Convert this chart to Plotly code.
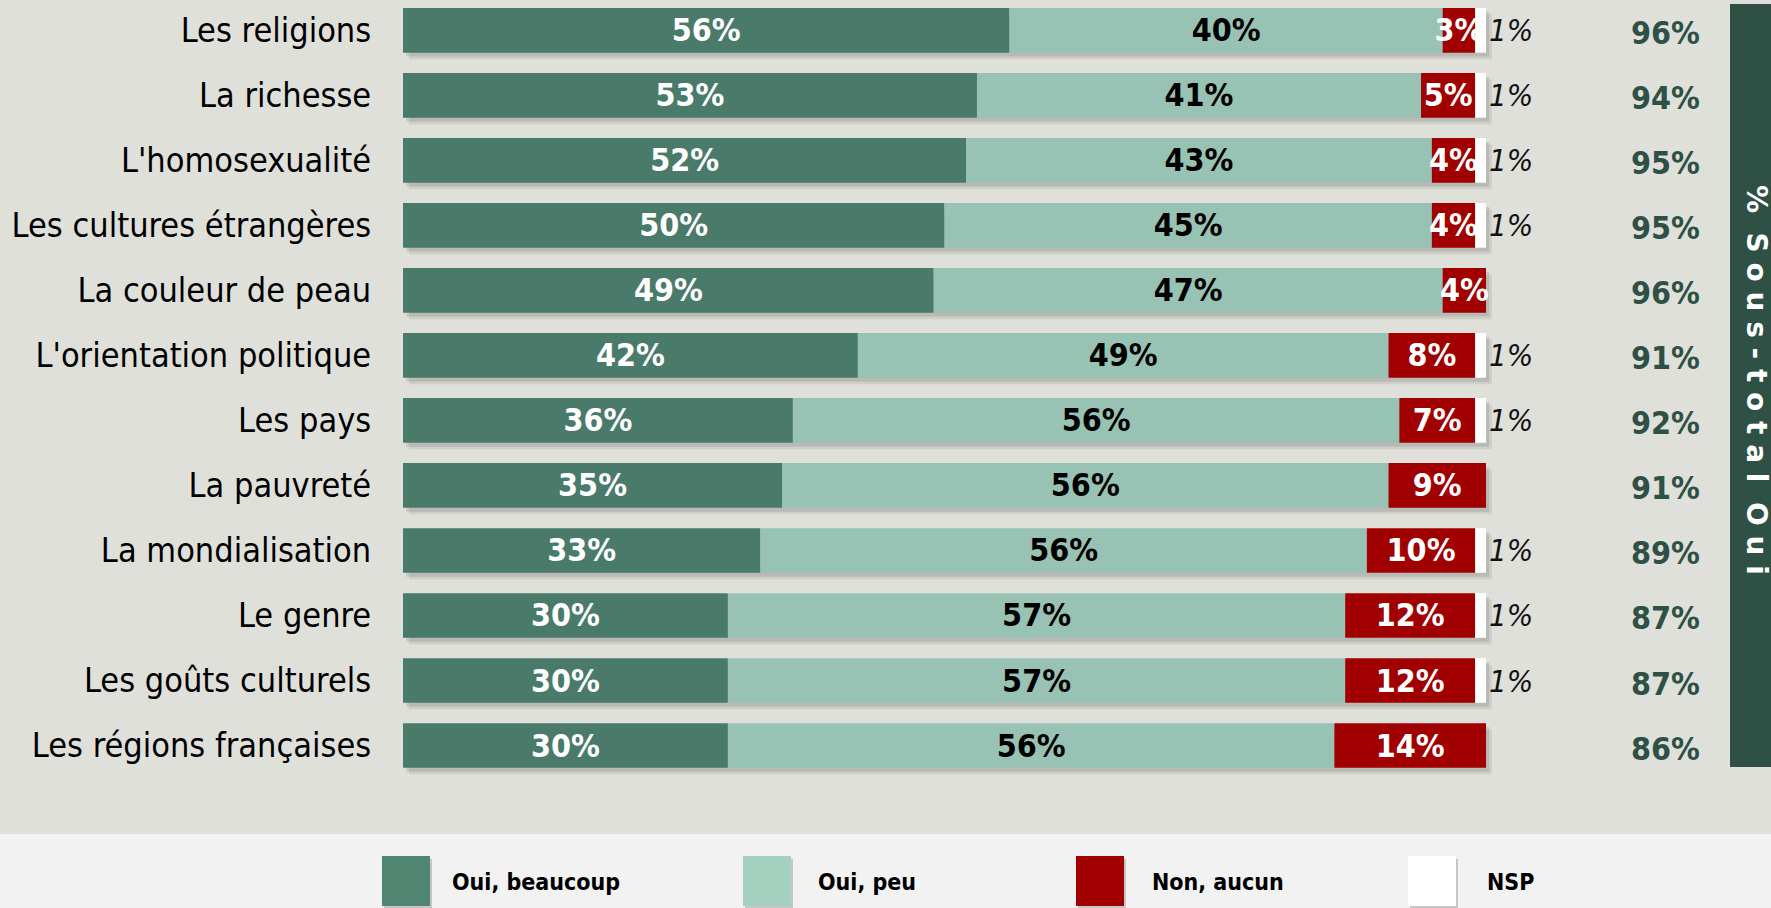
import plotly.graph_objects as go

categories = ["Les religions", "La richesse", "L'homosexualité", "Les cultures étrangères",
              "La couleur de peau", "L'orientation politique", "Les pays", "La pauvreté",
              "La mondialisation", "Le genre", "Les goûts culturels", "Les régions françaises"]
oui_beaucoup = [56, 53, 52, 50, 49, 42, 36, 35, 33, 30, 30, 30]
oui_peu = [40, 41, 43, 45, 47, 49, 56, 56, 56, 57, 57, 56]
non_aucun = [3, 5, 4, 4, 4, 8, 7, 9, 10, 12, 12, 14]
nsp = [1, 1, 1, 1, 0, 1, 1, 0, 1, 1, 1, 0]
sous_total_oui = [96, 94, 95, 95, 96, 91, 92, 91, 89, 87, 87, 86]

series_names = ["Oui, beaucoup", "Oui, peu", "Non, aucun", "NSP"]
colors = ["#4A7B6A", "#98C3B4", "#A00000", "#FFFFFF"]
legend_colors = ["#4F8571", "#A4D0C0", "#A00000", "#FFFFFF"]
text_colors = ["white", "black", "white", "black"]

W, H = 1771, 908
L_M, B_M = 403, 74
PX_PER_PCT = 10.83
plot_w = W - L_M
plot_h = H - B_M
xmax = plot_w / PX_PER_PCT
row_px, first_px = 65.02, 30.3
y_top = -first_px / row_px
y_bot = (plot_h - first_px) / row_px

BASE_FONT = "DejaVu Sans Condensed, DejaVu Sans, sans-serif"

fig = go.Figure()

# soft shadows behind bars
totals = [a + b + c + d for a, b, c, d in zip(oui_beaucoup, oui_peu, non_aucun, nsp)]
for k, (dx, dy, op) in enumerate([(0.55, 0.10, 0.10), (0.3, 0.06, 0.14)]):
    fig.add_trace(go.Bar(
        y=categories, x=totals, base=dx, orientation="h", width=0.687, offset=-0.687 / 2 + dy,
        marker=dict(color=f"rgba(60,60,60,{op})", line=dict(width=0)),
        hoverinfo="skip", showlegend=False))

series = [oui_beaucoup, oui_peu, non_aucun, nsp]
bases = [[0] * len(categories)]
for s in series[:-1]:
    bases.append([b + v for b, v in zip(bases[-1], s)])

for i, (name, vals) in enumerate(zip(series_names, series)):
    if name == "NSP":
        txt = [f"{v}%" if v else "" for v in vals]
        tpos = "outside"
        tfont = dict(family=BASE_FONT, size=31, color="#111111", style="italic")
    else:
        txt = [f"{v}%" for v in vals]
        tpos = "inside"
        tfont = dict(family=BASE_FONT, size=32, color=text_colors[i], weight="bold")
    fig.add_trace(go.Bar(
        y=categories, x=vals, base=bases[i], orientation="h", name=name, width=0.687,
        marker=dict(color=colors[i], line=dict(width=0)),
        text=txt, textposition=tpos, insidetextanchor="middle", textangle=0,
        constraintext="none", cliponaxis=False,
        insidetextfont=tfont, outsidetextfont=tfont,
        hoverinfo="skip", showlegend=False))

shapes = []
annotations = []

# subtotal column
for cat, v in zip(categories, sous_total_oui):
    annotations.append(dict(xref="x", yref="y", x=116.6, y=cat, text=f"{v}%", showarrow=False,
                            xanchor="center", yanchor="middle", yshift=-3,
                            font=dict(family=BASE_FONT, size=32, color="#2E5045", weight="bold")))

# legend band
shapes.append(dict(type="rect", xref="paper", yref="paper", x0=-L_M / plot_w, x1=1.0,
                   y0=-B_M / plot_h, y1=0, fillcolor="#F2F2F2", line=dict(width=0), layer="below"))
# subtotal box
box_x0 = (1730 - L_M) / plot_w
shapes.append(dict(type="rect", xref="paper", yref="paper", x0=box_x0, x1=1.0,
                   y0=1 - 767 / plot_h, y1=1 - 4 / plot_h, fillcolor="#2F5045",
                   line=dict(width=0), layer="above"))
annotations.append(dict(xref="paper", yref="paper", x=(1757 - L_M) / plot_w, y=1 - 380 / plot_h,
                        text="%  S o u s - t o t a l  O u i", textangle=90, showarrow=False,
                        font=dict(family="DejaVu Sans, sans-serif", size=28, color="white", weight="bold"),
                        xanchor="center", yanchor="middle"))

# custom legend
sw_x = [382, 743, 1076, 1408]
tx_x = [450, 816, 1150, 1485]
for name, c, sx, tx in zip(series_names, legend_colors, sw_x, tx_x):
    shapes.append(dict(type="rect", xref="paper", yref="paper",
                       x0=(sx + 2 - L_M) / plot_w, x1=(sx + 50 - L_M) / plot_w,
                       y0=(plot_h - 908) / plot_h, y1=(plot_h - 859) / plot_h,
                       fillcolor="rgba(0,0,0,0.18)", line=dict(width=0)))
    shapes.append(dict(type="rect", xref="paper", yref="paper",
                       x0=(sx - L_M) / plot_w, x1=(sx + 48 - L_M) / plot_w,
                       y0=(plot_h - 906) / plot_h, y1=(plot_h - 856) / plot_h,
                       fillcolor=c, line=dict(width=0)))
    annotations.append(dict(xref="paper", yref="paper", x=(tx - L_M) / plot_w,
                            y=(plot_h - 882) / plot_h, text=name, showarrow=False,
                            xanchor="left", yanchor="middle",
                            font=dict(family=BASE_FONT, size=23, color="black", weight="bold")))

fig.update_layout(
    width=W, height=H, barmode="overlay",
    margin=dict(l=L_M, r=0, t=0, b=B_M, pad=0),
    paper_bgcolor="#E0E0DB", plot_bgcolor="#E0E0DB",
    shapes=shapes, annotations=annotations, showlegend=False,
    xaxis=dict(range=[0, xmax], visible=False, fixedrange=True),
    yaxis=dict(type="category", range=[y_bot, y_top], showgrid=False, zeroline=False,
               showline=False, ticks="outside", ticklen=24, tickcolor="rgba(0,0,0,0)",
               tickfont=dict(family=BASE_FONT, size=34, color="black"), fixedrange=True),
)

fig.write_html("out.html", config={"displayModeBar": False},
               post_script="document.body.style.margin='0';document.body.style.padding='0';"
                           "document.body.style.overflow='hidden';")
